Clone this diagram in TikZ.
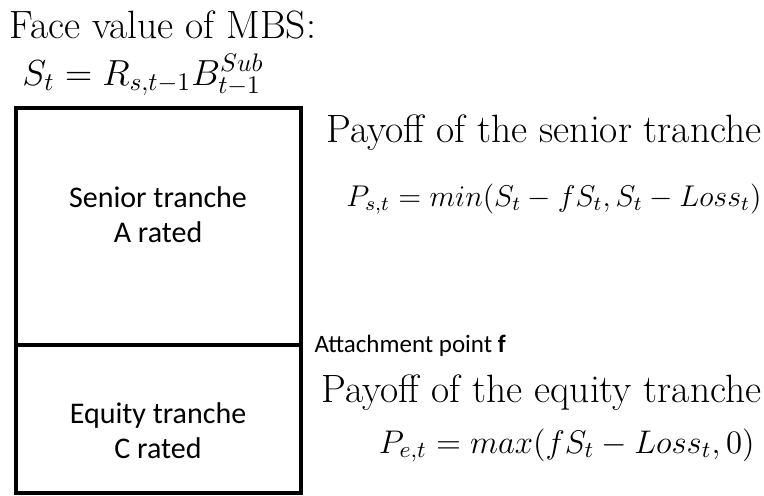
\RequirePackage{fix-cm}
\documentclass[tikz,border=0pt]{standalone}
\usepackage{amsmath}
\usepackage{fontspec}
\newfontfamily\calibri{Carlito}
\usetikzlibrary{positioning, calc}

\begin{document}
\begin{tikzpicture}[x=0.4pt, y=-0.4pt,
    title/.style={inner sep=0pt, font=\fontsize{15.8}{19}\selectfont},
    formula/.style={anchor=base east, inner sep=0pt},
    tranche/.style={align=center, inner sep=0pt, font=\calibri\fontsize{12}{14}\selectfont}]
    \useasboundingbox (0,0) rectangle (764,495);

    % Box corners
    \coordinate (TL) at (16,108);
    \coordinate (BR) at (301,493);
    \coordinate (FL) at (16,345);
    \coordinate (FR) at (301,345);

    % Draw tranche box
    \draw[line width=1.7pt] (TL) rectangle (BR);

    % Attachment point line
    \draw[line width=1.3pt] (FL) -- (FR);

    % Tranche labels
    \node[tranche] (senior) at (158,215) {Senior tranche\\A rated};
    \node[tranche] (equity) at (158,431) {Equity tranche\\C rated};
    \node[tranche, anchor=base west, font=\calibri\fontsize{10}{12}\selectfont] (attach) at (314,352) {Attachment point \textbf{f}};

    % Face value
    \node[title, anchor=base west] (face) at (9,38) {Face value of MBS:};
    \node[formula, anchor=base west, font=\fontsize{14.5}{17}\selectfont] (facef) at (22,85) {$S_t = R_{s,t-1}B^{Sub}_{t-1}$};

    % Payoffs
    \node[title, anchor=base east] (paysen) at (762,142) {Payoff of the senior tranche};
    \node[formula, font=\fontsize{12}{15}\selectfont] (paysenf) at (762,206) {$P_{s,t} = min(S_t - fS_t, S_t - Loss_t)$};
    \node[title, anchor=base east] (payeq) at (762,402) {Payoff of the equity tranche};
    \node[formula, font=\fontsize{13.1}{16}\selectfont] (payeqf) at (755,453) {$P_{e,t} = max(fS_t - Loss_t, 0)$};
\end{tikzpicture}
\end{document}
